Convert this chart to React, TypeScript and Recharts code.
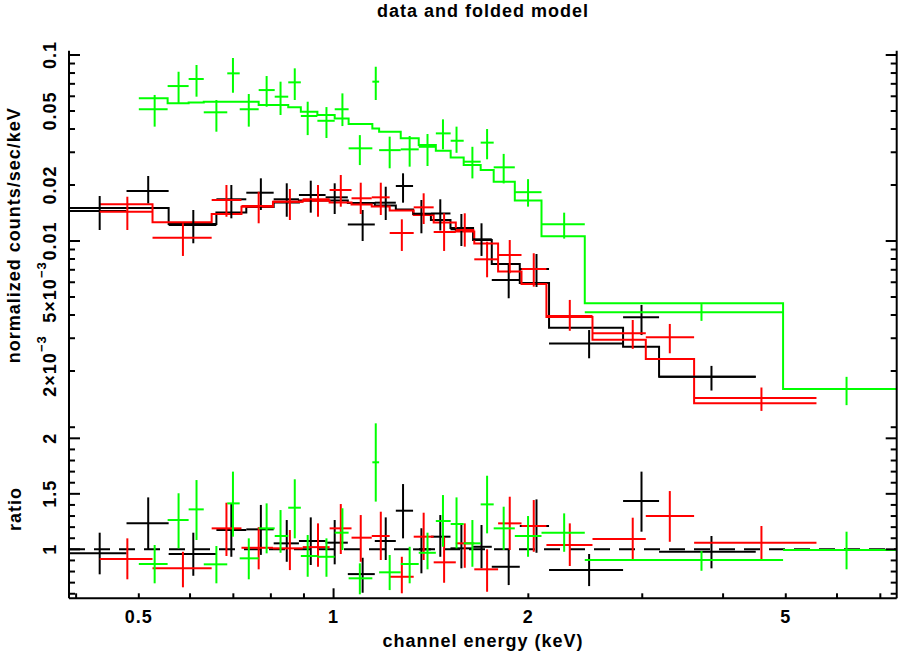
import React from 'react';
import { ComposedChart, Scatter, Line, XAxis, YAxis, ErrorBar, ReferenceLine } from 'recharts';

// ---- axes ----
const X_DOMAIN = [0.39, 7.42];
const X_TICKS = [0.4, 0.5, 0.6, 0.7, 0.8, 0.9, 1, 2, 3, 4, 5, 6, 7];
const X_LABELS = [0.5, 1, 2, 5];

const RATE_DOMAIN = [0.00109, 0.1055];
const RATE_TICKS = [0.1, 0.09, 0.08, 0.07, 0.06, 0.05, 0.04, 0.03, 0.02, 0.01, 0.009, 0.008, 0.007, 0.006, 0.005, 0.004, 0.003, 0.002];
const RATE_MAJOR = [0.1, 0.01];
const RATE_LABELS: [number, string, string][] = [
  [0.1, '0.1', ''],
  [0.05, '0.05', ''],
  [0.02, '0.02', ''],
  [0.01, '0.01', ''],
  [0.005, '5\u00d710', '\u22123'],
  [0.002, '2\u00d710', '\u22123'],
];

const RATIO_DOMAIN = [0.559, 2.165];
const RATIO_TICKS = [0.6, 0.7, 0.8, 0.9, 1, 1.1, 1.2, 1.3, 1.4, 1.5, 1.6, 1.7, 1.8, 1.9, 2, 2.1];
const RATIO_MAJOR = [1, 1.5, 2];
const RATIO_LABELS = [1, 1.5, 2];

// ---- black data set ----
const blackEdges = [0.39, 0.4786, 0.556, 0.659, 0.733, 0.808, 0.884, 0.972, 1.052, 1.158, 1.248, 1.327, 1.414, 1.516, 1.643, 1.756, 1.94, 2.153, 2.802, 3.185, 4.493];
const blackE = [0.435, 0.517, 0.607, 0.695, 0.772, 0.8465, 0.922, 1.004, 1.109, 1.204, 1.2805, 1.367, 1.462, 1.576, 1.693, 1.865, 2.059, 2.483, 2.992, 3.838];
const blackRate = [0.01449, 0.01857, 0.01219, 0.01676, 0.01818, 0.01676, 0.01767, 0.01717, 0.01227, 0.01607, 0.01976, 0.01402, 0.01406, 0.01156, 0.01021, 0.00617, 0.00707, 0.00281, 0.00389, 0.00186];
const blackRateLo = [0.01146, 0.01595, 0.00972, 0.01324, 0.01468, 0.0135, 0.0142, 0.01397, 0.01, 0.01297, 0.01607, 0.011, 0.01139, 0.0094, 0.00831, 0.00492, 0.00566, 0.00234, 0.00312, 0.00157];
const blackRateHi = [0.01745, 0.02236, 0.01468, 0.02, 0.02173, 0.02043, 0.0211, 0.02043, 0.01468, 0.01958, 0.02312, 0.01661, 0.01676, 0.01397, 0.01245, 0.00743, 0.00851, 0.00332, 0.00453, 0.00213];
const blackModel = [0.01504, 0.01504, 0.01234, 0.01422, 0.01523, 0.01611, 0.01651, 0.01651, 0.01601, 0.01552, 0.01477, 0.01397, 0.01297, 0.01175, 0.01012, 0.00752, 0.00594, 0.00342, 0.0027, 0.00186];
const blackRatio = [0.964, 1.234, 0.958, 1.174, 1.18, 1.054, 1.075, 1.06, 0.777, 1.075, 1.348, 1.0, 1.114, 1.009, 1.023, 0.843, 1.21, 0.814, 1.435, 0.978];
const blackRatioLo = [0.775, 1.0, 0.762, 0.933, 0.95, 0.888, 0.859, 0.865, 0.609, 0.904, 1.099, 0.784, 0.933, 0.829, 0.829, 0.678, 0.969, 0.669, 1.159, 0.829];
const blackRatioHi = [1.15, 1.468, 1.15, 1.414, 1.4, 1.264, 1.288, 1.264, 0.924, 1.288, 1.588, 1.19, 1.309, 1.219, 1.219, 0.994, 1.45, 0.958, 1.7, 1.12];

// ---- red data set ----
const redEdges = [0.435, 0.525, 0.648, 0.7205, 0.806, 0.896, 0.986, 1.066, 1.1455, 1.221, 1.33, 1.428, 1.545, 1.65, 1.796, 1.952, 2.133, 2.513, 3.038, 3.608, 5.577];
const redE = [0.48, 0.585, 0.683, 0.766, 0.856, 0.946, 1.026, 1.1015, 1.183, 1.275, 1.378, 1.482, 1.595, 1.727, 1.872, 2.039, 2.318, 2.9, 3.309, 4.585];
const redRate = [0.01437, 0.01041, 0.01661, 0.01542, 0.01627, 0.01676, 0.0188, 0.01697, 0.01717, 0.01104, 0.01517, 0.01118, 0.01146, 0.00797, 0.00841, 0.00707, 0.00395, 0.00319, 0.00304, 0.00143];
const redRateLo = [0.01146, 0.00831, 0.0135, 0.01245, 0.01297, 0.0135, 0.01529, 0.01397, 0.0138, 0.00884, 0.01234, 0.00884, 0.00932, 0.00638, 0.00671, 0.00568, 0.00329, 0.00263, 0.00249, 0.00122];
const redRateHi = [0.0173, 0.01245, 0.02, 0.01841, 0.01904, 0.02, 0.02264, 0.02058, 0.02058, 0.01308, 0.01805, 0.01409, 0.01409, 0.00991, 0.01012, 0.00859, 0.00482, 0.00376, 0.00358, 0.00163];
const redModel = [0.01575, 0.0126, 0.01397, 0.01529, 0.01627, 0.01647, 0.01611, 0.01571, 0.01533, 0.01459, 0.0138, 0.01257, 0.01125, 0.0097, 0.00686, 0.00587, 0.0039, 0.00294, 0.00232, 0.00134];
const redRatio = [0.913, 0.829, 1.189, 1.014, 1.009, 1.02, 1.189, 1.105, 1.12, 0.753, 1.114, 0.883, 1.054, 0.82, 1.234, 1.21, 1.039, 1.093, 1.3, 1.06];
const redRatioLo = [0.73, 0.658, 0.94, 0.82, 0.813, 0.843, 0.958, 0.888, 0.904, 0.604, 0.904, 0.699, 0.834, 0.618, 0.994, 0.978, 0.85, 0.91, 1.068, 0.91];
const redRatioHi = [1.099, 0.978, 1.42, 1.2, 1.174, 1.234, 1.408, 1.309, 1.339, 0.933, 1.33, 1.114, 1.234, 1.0, 1.474, 1.444, 1.234, 1.285, 1.525, 1.21];

// ---- green data set ----
const greenEdges = [0.5, 0.554, 0.597, 0.63, 0.685, 0.716, 0.766, 0.811, 0.851, 0.89, 0.944, 1.004, 1.055, 1.148, 1.176, 1.27, 1.354, 1.439, 1.517, 1.589, 1.688, 1.768, 1.906, 2.096, 2.445, 4.952, 7.42];
const greenE = [0.529, 0.576, 0.614, 0.659, 0.699, 0.7395, 0.788, 0.828, 0.871, 0.912, 0.975, 1.032, 1.098, 1.162, 1.221, 1.311, 1.397, 1.476, 1.549, 1.639, 1.727, 1.832, 1.998, 2.272, 3.704, 6.207];
const greenRate = [0.0511, 0.0681, 0.0743, 0.0492, 0.0797, 0.0511, 0.0648, 0.0597, 0.0713, 0.047, 0.0443, 0.0511, 0.0315, 0.0719, 0.0308, 0.0311, 0.0321, 0.0379, 0.0346, 0.0267, 0.0338, 0.0249, 0.0183, 0.0123, 0.00414, 0.0016];
const greenRateLo = [0.0412, 0.055, 0.0597, 0.0387, 0.0627, 0.0412, 0.0527, 0.0476, 0.0573, 0.0371, 0.0358, 0.0415, 0.0256, 0.0573, 0.0246, 0.0251, 0.0253, 0.0311, 0.0298, 0.0217, 0.0275, 0.0204, 0.0153, 0.0103, 0.00372, 0.00131];
const greenRateHi = [0.061, 0.0813, 0.0884, 0.0573, 0.0964, 0.0617, 0.0771, 0.0719, 0.0848, 0.0561, 0.0525, 0.0622, 0.0371, 0.0865, 0.0364, 0.0367, 0.0376, 0.0451, 0.0412, 0.0321, 0.04, 0.0294, 0.0215, 0.0142, 0.00458, 0.00186];
const greenModel = [0.0585, 0.055, 0.0555, 0.0561, 0.0561, 0.0561, 0.0538, 0.0538, 0.0523, 0.0496, 0.0476, 0.0456, 0.0426, 0.0403, 0.0387, 0.0357, 0.0328, 0.0306, 0.0281, 0.0256, 0.0241, 0.0208, 0.0165, 0.0106, 0.00462, 0.0016];
const greenRatio = [0.868, 1.264, 1.36, 0.865, 1.414, 0.919, 1.189, 1.12, 1.375, 0.94, 0.933, 1.15, 0.739, 1.784, 0.793, 0.868, 0.969, 1.255, 1.228, 1.054, 1.405, 1.189, 1.12, 1.15, 0.904, 0.994];
const greenRatioLo = [0.694, 1.009, 1.084, 0.694, 1.114, 0.73, 0.964, 0.969, 1.099, 0.753, 0.753, 0.994, 0.595, 1.43, 0.633, 0.694, 0.82, 1.023, 1.009, 0.843, 1.144, 0.994, 0.933, 0.978, 0.807, 0.82];
const greenRatioHi = [1.039, 1.505, 1.624, 1.03, 1.7, 1.099, 1.414, 1.354, 1.631, 1.129, 1.099, 1.37, 0.874, 2.135, 0.949, 1.023, 1.15, 1.489, 1.468, 1.264, 1.663, 1.384, 1.3, 1.324, 0.985, 1.159];

const FONT = '"Liberation Sans", Arial, Helvetica, sans-serif';
const TXT = { fontFamily: FONT, fontSize: 18, fontWeight: 700, letterSpacing: 1, fill: '#000' } as const;

const near = (list: number[], v: number) => list.some((t) => Math.abs(t - Number(v)) < 1e-9);

// points with asymmetric error bars
function crosses(edges: number[], centers: number[], vals: number[], lo: number[], hi: number[]) {
  return centers.map((c, i) => ({
    x: c,
    y: vals[i],
    ex: [c - edges[i], edges[i + 1] - c],
    ey: [vals[i] - lo[i], hi[i] - vals[i]],
  }));
}

// step histogram from bin edges
function steps(edges: number[], model: number[]) {
  const pts = model.map((m, i) => ({ x: edges[i], m }));
  pts.push({ x: edges[edges.length - 1], m: model[model.length - 1] });
  return pts;
}

const sets = [
  { color: '#000000', edges: blackEdges, e: blackE, rate: blackRate, lo: blackRateLo, hi: blackRateHi, model: blackModel, ratio: blackRatio, rlo: blackRatioLo, rhi: blackRatioHi },
  { color: '#ff0000', edges: redEdges, e: redE, rate: redRate, lo: redRateLo, hi: redRateHi, model: redModel, ratio: redRatio, rlo: redRatioLo, rhi: redRatioHi },
  { color: '#00ff00', edges: greenEdges, e: greenE, rate: greenRate, lo: greenRateLo, hi: greenRateHi, model: greenModel, ratio: greenRatio, rlo: greenRatioLo, rhi: greenRatioHi },
];

// ---- tick renderers (ticks point into the frame) ----
const xTickUp = (labels: boolean) => (props: any) => {
  const x = Number(props.x);
  const y = Number(props.y);
  const v = Number(props.payload.value);
  const len = v === 1 ? 10 : 5;
  const show = labels && near(X_LABELS, v);
  return (
    <g>
      <line x1={x} x2={x} y1={y} y2={y - len} stroke="#000" strokeWidth={2} />
      {show ? (
        <text x={x} y={y + 24.7} textAnchor="middle" {...TXT}>{String(v)}</text>
      ) : null}
    </g>
  );
};

const xTickDown = (props: any) => {
  const x = Number(props.x);
  const y = Number(props.y);
  const len = Number(props.payload.value) === 1 ? 10 : 5;
  return <line x1={x} x2={x} y1={y} y2={y + len} stroke="#000" strokeWidth={2} />;
};

const rateTickLeft = (props: any) => {
  const x = Number(props.x);
  const y = Number(props.y);
  const v = Number(props.payload.value);
  const len = near(RATE_MAJOR, v) ? 11 : 6;
  const lab = RATE_LABELS.find((l) => Math.abs(l[0] - v) < 1e-9);
  const tx = x - 12.5;
  return (
    <g>
      <line x1={x} x2={x + len} y1={y} y2={y} stroke="#000" strokeWidth={2} />
      {lab && (
        <text x={tx + (lab[2] ? 5 : 0)} y={y} transform={`rotate(-90 ${tx} ${y})`} textAnchor="middle" {...TXT}>
          {lab[1]}
          {lab[2] && <tspan dy={-10} fontSize={13}>{lab[2]}</tspan>}
        </text>
      )}
    </g>
  );
};

const rateTickRight = (props: any) => {
  const x = Number(props.x);
  const y = Number(props.y);
  const len = near(RATE_MAJOR, props.payload.value) ? 11 : 6;
  return <line x1={x} x2={x - len} y1={y} y2={y} stroke="#000" strokeWidth={2} />;
};

const ratioTickLeft = (props: any) => {
  const x = Number(props.x);
  const y = Number(props.y);
  const v = Number(props.payload.value);
  const len = near(RATIO_MAJOR, v) ? 11 : 6;
  const tx = x - 12.5;
  return (
    <g>
      <line x1={x} x2={x + len} y1={y} y2={y} stroke="#000" strokeWidth={2} />
      {near(RATIO_LABELS, v) && (
        <text x={tx} y={y} transform={`rotate(-90 ${tx} ${y})`} textAnchor="middle" {...TXT}>{String(v)}</text>
      )}
    </g>
  );
};

const ratioTickRight = (props: any) => {
  const x = Number(props.x);
  const y = Number(props.y);
  const len = near(RATIO_MAJOR, props.payload.value) ? 11 : 6;
  return <line x1={x} x2={x - len} y1={y} y2={y} stroke="#000" strokeWidth={2} />;
};

const frame = { stroke: '#000', strokeWidth: 2 };
const noShape = () => <g />;

export default function App() {
  return (
    <div style={{ position: 'absolute', left: 0, top: 0, width: 902, height: 654, background: '#fff' }}>
      {/* spectrum panel */}
      <div style={{ position: 'absolute', left: 0, top: 0 }}>
        <ComposedChart width={902} height={420} margin={{ top: 50.7, right: 0, bottom: 0, left: 0 }}>
          <XAxis xAxisId="b" dataKey="x" type="number" scale="log" domain={X_DOMAIN} allowDataOverflow ticks={X_TICKS} interval={0}
            height={0} tickSize={0} tickMargin={0} tickLine={false} axisLine={frame} tick={xTickUp(false)} />
          <XAxis xAxisId="t" dataKey="x" orientation="top" type="number" scale="log" domain={X_DOMAIN} allowDataOverflow ticks={X_TICKS} interval={0}
            height={0} tickSize={0} tickMargin={0} tickLine={false} axisLine={frame} tick={xTickDown} />
          <YAxis yAxisId="l" type="number" scale="log" domain={RATE_DOMAIN} allowDataOverflow ticks={RATE_TICKS} interval={0}
            width={69} tickSize={0} tickMargin={0} tickLine={false} axisLine={frame} tick={rateTickLeft} />
          <YAxis yAxisId="r" orientation="right" type="number" scale="log" domain={RATE_DOMAIN} allowDataOverflow ticks={RATE_TICKS} interval={0}
            width={5.3} tickSize={0} tickMargin={0} tickLine={false} axisLine={frame} tick={rateTickRight} />
          {sets.map((s, k) => (
            <Line key={`m${k}`} xAxisId="b" yAxisId="l" data={steps(s.edges, s.model)} dataKey="m" type="stepAfter"
              stroke={s.color} strokeWidth={2} dot={false} activeDot={false} isAnimationActive={false} />
          ))}
          {sets.map((s, k) => (
            <Scatter key={`d${k}`} xAxisId="b" yAxisId="l" data={crosses(s.edges, s.e, s.rate, s.lo, s.hi)} dataKey="y"
              shape={noShape} isAnimationActive={false}>
              <ErrorBar dataKey="ex" direction="x" width={0} stroke={s.color} strokeWidth={2} />
              <ErrorBar dataKey="ey" direction="y" width={0} stroke={s.color} strokeWidth={2} />
            </Scatter>
          ))}
        </ComposedChart>
      </div>

      {/* ratio panel */}
      <div style={{ position: 'absolute', left: 0, top: 420 }}>
        <ComposedChart width={902} height={234} margin={{ top: 0, right: 0, bottom: 15.7, left: 0 }}>
          <XAxis xAxisId="b" dataKey="x" type="number" scale="log" domain={X_DOMAIN} allowDataOverflow ticks={X_TICKS} interval={0}
            height={40} tickSize={0} tickMargin={0} tickLine={false} axisLine={frame} tick={xTickUp(true)} />
          <XAxis xAxisId="t" dataKey="x" orientation="top" type="number" scale="log" domain={X_DOMAIN} allowDataOverflow ticks={X_TICKS} interval={0}
            height={0} tickSize={0} tickMargin={0} tickLine={false} axisLine={frame} tick={xTickDown} />
          <YAxis yAxisId="l" type="number" domain={RATIO_DOMAIN} allowDataOverflow ticks={RATIO_TICKS} interval={0}
            width={69} tickSize={0} tickMargin={0} tickLine={false} axisLine={frame} tick={ratioTickLeft} />
          <YAxis yAxisId="r" orientation="right" type="number" domain={RATIO_DOMAIN} allowDataOverflow ticks={RATIO_TICKS} interval={0}
            width={5.3} tickSize={0} tickMargin={0} tickLine={false} axisLine={frame} tick={ratioTickRight} />
          <ReferenceLine xAxisId="b" yAxisId="l" y={1} stroke="#000" strokeWidth={2} strokeDasharray="16 9" />
          {sets.map((s, k) => (
            <Scatter key={`r${k}`} xAxisId="b" yAxisId="l" data={crosses(s.edges, s.e, s.ratio, s.rlo, s.rhi)} dataKey="y"
              shape={noShape} isAnimationActive={false}>
              <ErrorBar dataKey="ex" direction="x" width={0} stroke={s.color} strokeWidth={2} />
              <ErrorBar dataKey="ey" direction="y" width={0} stroke={s.color} strokeWidth={2} />
            </Scatter>
          ))}
        </ComposedChart>
      </div>

      {/* titles */}
      <svg width={902} height={654} style={{ position: 'absolute', left: 0, top: 0, pointerEvents: 'none' }}>
        <text x={483} y={17} textAnchor="middle" {...TXT}>data and folded model</text>
        <text x={483} y={647} textAnchor="middle" {...TXT}>channel energy (keV)</text>
        <text x={20.5} y={235.3} transform="rotate(-90 20.5 235.3)" textAnchor="middle" {...TXT}>normalized counts/sec/keV</text>
        <text x={20.5} y={509} transform="rotate(-90 20.5 509)" textAnchor="middle" {...TXT}>ratio</text>
      </svg>
    </div>
  );
}
